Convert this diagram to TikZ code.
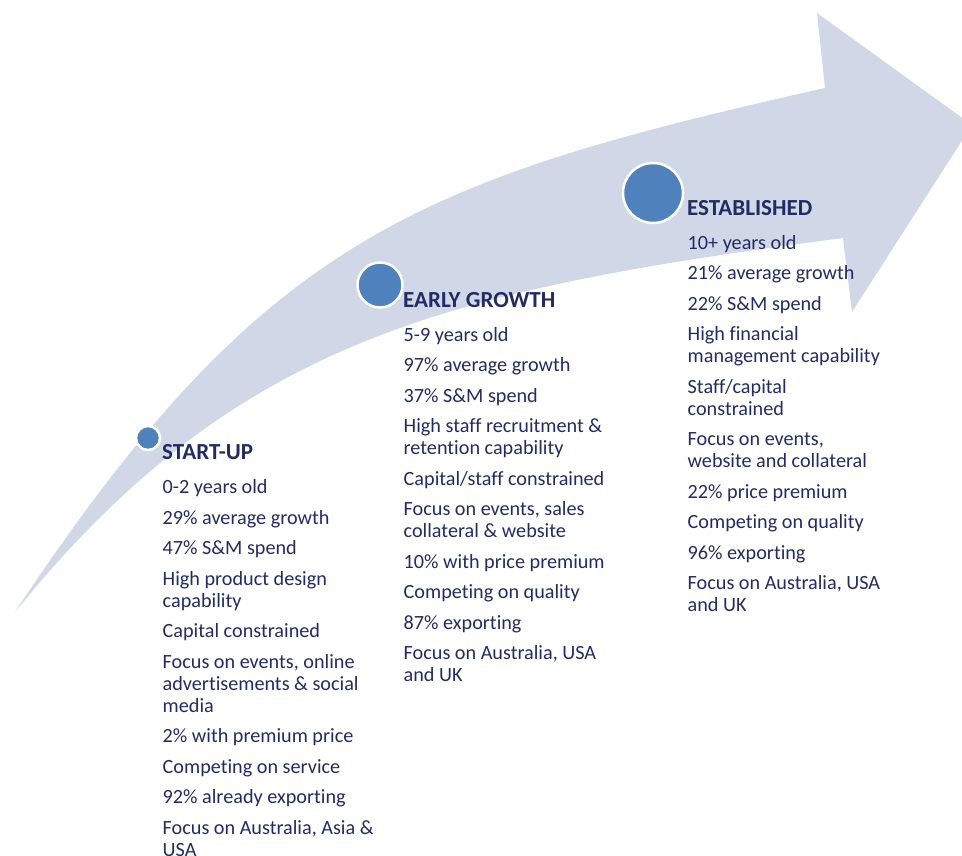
\documentclass[tikz,border=0pt]{standalone}
\usepackage{fontspec}
\setmainfont[Ligatures=NoCommon]{Carlito}
\usepackage{tikz}
\usetikzlibrary{positioning}

\definecolor{shaftblue}{HTML}{D0D8E8}
\definecolor{dotblue}{HTML}{4F81BD}
\definecolor{inknavy}{RGB}{34,44,98}

\tikzstyle{dot}=[%
  circle,
  draw=white,
  line width=2.5pt,
  fill=dotblue,
  inner sep=0pt
]
\tikzstyle{stagehead}=[%
  anchor=base west,
  inner sep=0pt,
  text=inknavy,
  font=\fontsize{23}{25}\selectfont\bfseries
]
% strut height is 0.7 x 22pt, so the first baseline sits 15.4pt below the top
\tikzstyle{stagetext}=[%
  anchor=north west,
  inner sep=0pt,
  align=left,
  text=inknavy,
  font=\fontsize{20.2}{22}\selectfont,
  execute at begin node=\strut
]

\begin{document}
\begin{tikzpicture}[x=1pt, y=-1pt]
      \useasboundingbox (0,0) rectangle (962,855);
      \clip (0,0) rectangle (962,855);
      % curved growth arrow
      \fill[shaftblue] (15,612) .. controls (263,238) and (415,180) .. (825,88)
        -- (817,13) -- (972,125) -- (852,312) -- (843,238)
        .. controls (446,290) and (236,339) .. (15,612) -- cycle;
      \node[dot, minimum size=24pt] (d1) at (148,438) {};
      \node[dot, minimum size=45pt] (d2) at (380,285) {};
      \node[dot, minimum size=60pt] (d3) at (653,193) {};
      \node[stagehead] (h1) at (162,459) {START-UP};
      \node[stagehead] (h2) at (403,307) {EARLY GROWTH};
      \node[stagehead] (h3) at (687,215) {ESTABLISHED};
      \node[stagetext] (t1) at (162.5,479.3) {0-2 years old\\[8.5pt]
        29\% average growth\\[8.5pt]
        47\% S\&M spend\\[8.5pt]
        High product design\\capability\\[8.5pt]
        Capital constrained\\[8.5pt]
        Focus on events, online\\advertisements \& social\\media\\[8.5pt]
        2\% with premium price\\[8.5pt]
        Competing on service\\[8.5pt]
        92\% already exporting\\[8.5pt]
        Focus on Australia, Asia \&\\USA};
      \node[stagetext] (t2) at (403.5,327) {5-9 years old\\[8.5pt]
        97\% average growth\\[8.5pt]
        37\% S\&M spend\\[8.5pt]
        High staff recruitment \&\\retention capability\\[8.5pt]
        Capital/staff constrained\\[8.5pt]
        Focus on events, sales\\collateral \& website\\[8.5pt]
        10\% with price premium\\[8.5pt]
        Competing on quality\\[8.5pt]
        87\% exporting\\[8.5pt]
        Focus on Australia, USA\\and UK};
      \node[stagetext] (t3) at (687.5,235) {10+ years old\\[8.5pt]
        21\% average growth\\[8.5pt]
        22\% S\&M spend\\[8.5pt]
        High financial\\management capability\\[8.5pt]
        Staff/capital\\constrained\\[8.5pt]
        Focus on events,\\website and collateral\\[8.5pt]
        22\% price premium\\[8.5pt]
        Competing on quality\\[8.5pt]
        96\% exporting\\[8.5pt]
        Focus on Australia, USA\\and UK};
    \end{tikzpicture}
\end{document}
